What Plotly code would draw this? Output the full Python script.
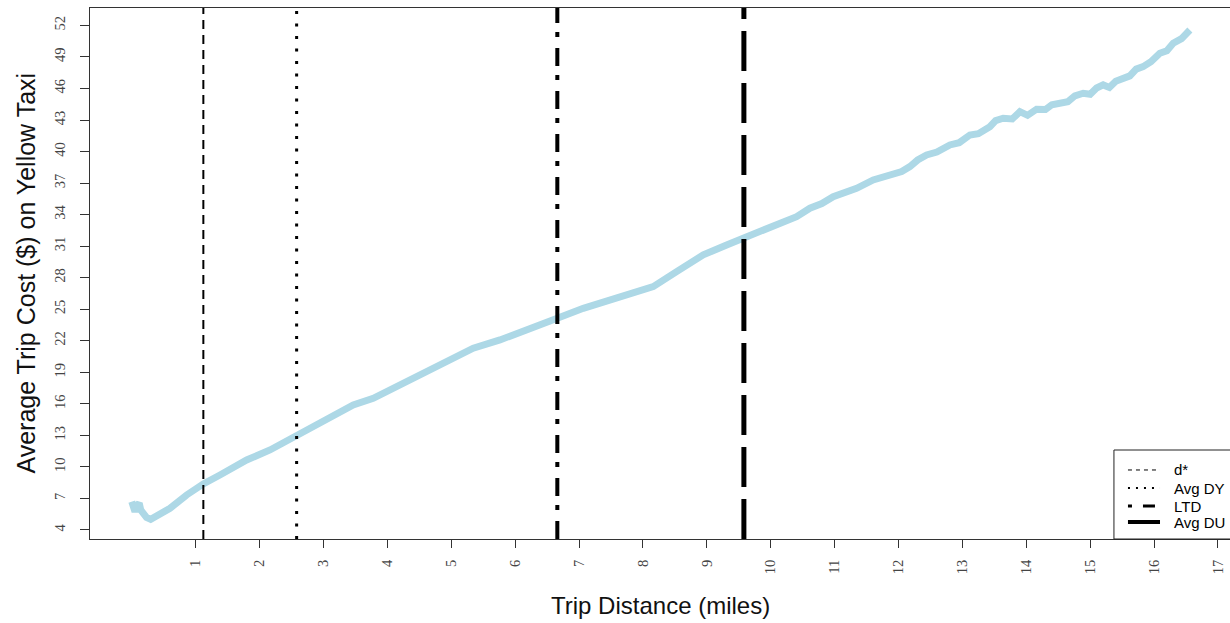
import plotly.graph_objects as go

# Average yellow-taxi fare by trip distance
distance = [0.00, 0.03, 0.05, 0.08, 0.117, 0.14, 0.171, 0.23, 0.296, 0.45, 0.598,
            0.859, 1.119, 1.380, 1.798, 2.163, 2.570, 2.945, 3.466, 3.779, 4.249,
            4.615, 5.031, 5.344, 5.762, 6.283, 6.659, 7.066, 7.484, 7.901, 8.161,
            8.527, 8.944, 9.310, 9.570, 9.987, 10.20, 10.405, 10.613, 10.80, 10.978,
            11.15, 11.344, 11.604, 11.917, 12.05, 12.178, 12.30, 12.440, 12.60, 12.804,
            12.95, 13.117, 13.25, 13.430, 13.52, 13.638, 13.78, 13.900, 14.02, 14.161,
            14.30, 14.40, 14.526, 14.65, 14.76, 14.890, 15.00, 15.10, 15.203, 15.30,
            15.40, 15.516, 15.62, 15.72, 15.829, 15.95, 16.090, 16.20, 16.299, 16.43,
            16.560]
avg_cost = [6.69, 6.20, 5.74, 6.30, 6.54, 5.90, 5.59, 5.20, 5.02, 5.50, 6.06,
            7.33, 8.38, 9.23, 10.66, 11.61, 12.97, 14.30, 15.89, 16.53, 17.96,
            19.06, 20.18, 21.29, 22.08, 23.19, 24.14, 25.09, 25.88, 26.58, 27.15,
            28.58, 30.17, 31.12, 31.75, 32.71, 33.20, 33.81, 34.61, 35.05, 35.71,
            36.10, 36.51, 37.30, 37.94, 38.10, 38.57, 39.20, 39.68, 39.95, 40.63,
            40.85, 41.58, 41.70, 42.37, 42.95, 43.17, 43.10, 43.80, 43.45, 44.03,
            44.00, 44.45, 44.60, 44.75, 45.30, 45.55, 45.45, 46.05, 46.34, 46.10,
            46.70, 46.98, 47.20, 47.85, 48.08, 48.55, 49.36, 49.60, 50.31, 50.75,
            51.57]

x_ticks = list(range(1, 18))
y_ticks = list(range(4, 53, 3))

# Reference distances drawn as vertical lines
ref_names = ["d*", "Avg DY", "LTD", "Avg DU"]
ref_values = [1.12, 2.58, 6.66, 9.58]
ref_styles = [
    dict(width=2, dash="9px,6px"),
    dict(width=3, dash="3px,9.5px"),
    dict(width=4, dash="18px,11px,5px,9px"),
    dict(width=5, dash="40px,12px"),
]
legend_styles = [
    dict(width=1, dash="4px,4px"),
    dict(width=2, dash="2px,6px"),
    dict(width=3, dash="4px,11px,12px,20px"),
    dict(width=4, dash="solid"),
]

fig = go.Figure()
fig.add_trace(go.Scatter(
    x=distance, y=avg_cost, mode="lines",
    line=dict(color="#ADD8E6", width=7),
    showlegend=False, hoverinfo="skip",
))

shapes = []
for val, st in zip(ref_values, ref_styles):
    shapes.append(dict(type="line", xref="x", yref="paper", x0=val, x1=val, y0=0, y1=1,
                       line=dict(color="black", **st), layer="above"))

# legend box in the lower-right corner
shapes.append(dict(type="rect", xref="paper", yref="paper", x0=0.8982, x1=1.02,
                   y0=0, y1=0.1676, line=dict(color="#222", width=1),
                   fillcolor="white", layer="above"))
legend_rows = [0.130, 0.096, 0.062, 0.032]
annotations = []
for name, st, yr in zip(ref_names, legend_styles, legend_rows):
    shapes.append(dict(type="line", xref="paper", yref="paper", x0=0.9105, x1=0.9386,
                       y0=yr, y1=yr, line=dict(color="black", **st), layer="above"))
    annotations.append(dict(xref="paper", yref="paper", x=0.949, y=yr, text=name,
                            showarrow=False, xanchor="left", yanchor="middle",
                            font=dict(family="Liberation Sans, Arial", size=15, color="black")))

# axis titles
annotations.append(dict(xref="paper", yref="paper", x=0.5, y=-0.126,
                        text="Trip Distance (miles)", showarrow=False,
                        xanchor="center", yanchor="middle",
                        font=dict(family="Liberation Sans, Arial", size=24, color="#111")))
annotations.append(dict(xref="paper", yref="paper", x=-0.0565, y=0.501,
                        text="Average Trip Cost ($) on Yellow Taxi", showarrow=False,
                        textangle=-90, xanchor="center", yanchor="middle",
                        font=dict(family="Liberation Sans, Arial", size=25, color="#111")))

tick_font = dict(family="Liberation Serif, Times New Roman", size=14.5, color="#444")

fig.update_layout(
    width=1230, height=623,
    margin=dict(l=90, r=0, t=8, b=84),
    plot_bgcolor="white", paper_bgcolor="white",
    shapes=shapes, annotations=annotations,
    xaxis=dict(range=[-0.654, 17.188], tickvals=x_ticks, ticktext=[str(v) for v in x_ticks],
               tickangle=-90, ticks="outside", ticklen=8, tickcolor="#333", tickwidth=1,
               ticklabelstandoff=6,
               showline=True, linecolor="#333", linewidth=1, mirror=True,
               showgrid=False, zeroline=False, tickfont=tick_font),
    yaxis=dict(range=[3.14, 53.66], tickvals=y_ticks, ticktext=[str(v) for v in y_ticks],
               tickangle=-90, ticks="outside", ticklen=9, tickcolor="#333", tickwidth=1,
               ticklabelstandoff=9,
               showline=True, linecolor="#333", linewidth=1,
               showgrid=False, zeroline=False, tickfont=tick_font),
)

fig.write_html("out.html")
